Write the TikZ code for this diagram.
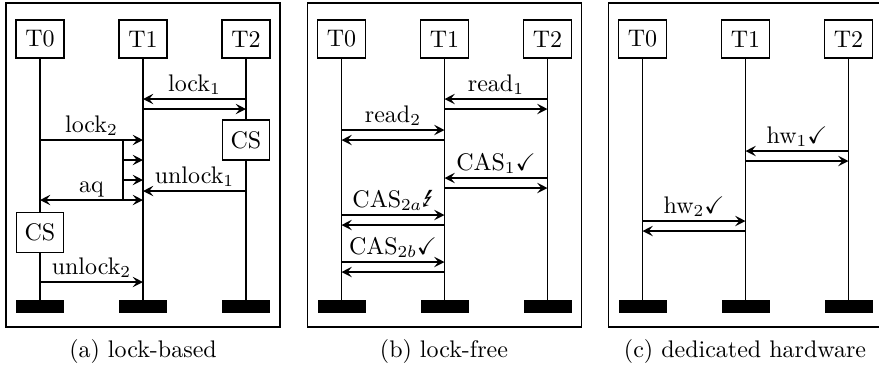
\documentclass[tikz,border=0pt]{standalone}
\usepackage{amssymb}
\usepackage{marvosym}
\usetikzlibrary{arrows.meta}
\begin{document}
\begin{tikzpicture}[x=0.41667pt,y=-0.41667pt,
  thread/.style={draw,line width=0.75pt,fill=white,minimum width=20pt,minimum height=15.8pt,inner sep=0pt},
  csbox/.style={thread,minimum width=19.6pt,minimum height=16.7pt},
  endbar/.style={fill=black,minimum width=20pt,minimum height=5.4pt,inner sep=0pt},
  life/.style={line width=0.75pt},
  msg/.style={line width=0.75pt,-{Stealth[length=4.3pt,width=4.3pt,inset=1.7pt]}},
  dmsg/.style={line width=0.75pt,{Stealth[length=4.3pt,width=4.3pt,inset=1.7pt]}-{Stealth[length=4.3pt,width=4.3pt,inset=1.7pt]}},
  frame/.style={line width=0.75pt},
  lbl/.style={midway,anchor=base,inner sep=0pt,yshift=3.3pt},
  captext/.style={anchor=base,inner sep=0pt}]
\useasboundingbox (0,0) rectangle (879,367);
\foreach \p/\o in {a/0,b/301.5,c/602.5}{
  \draw[frame] (6+\o,3) rectangle (280+\o,327);
  \node[thread] (\p T0) at (40+\o,39) {T0};
  \node[thread] (\p T1) at (143+\o,39) {T1};
  \node[thread] (\p T2) at (246+\o,39) {T2};
  \node[endbar] (\p E0) at (40+\o,306.5) {};
  \node[endbar] (\p E1) at (143+\o,306.5) {};
  \node[endbar] (\p E2) at (246+\o,306.5) {};
  \draw[life] (\p T0.south) -- (\p E0.north);
  \draw[life] (\p T1.south) -- (\p E1.north);
  \draw[life] (\p T2.south) -- (\p E2.north);
}
% (a) lock-based
\draw[msg] (aT2 |- 0,99) -- node[lbl] {lock$_1$} (aT1 |- 0,99);
\draw[msg] (aT1 |- 0,109) -- (aT2 |- 0,109);
\node[csbox] (aCS2) at (246,140) {CS};
\draw[msg] (aT0 |- 0,140) -- node[lbl] {lock$_2$} (aT1 |- 0,140);
\coordinate (aJ) at (123,140);
\draw[life] (aJ) -- (aJ |- 0,200);
\draw[msg] (aJ |- 0,160) -- (aT1 |- 0,160);
\draw[msg] (aJ |- 0,180) -- (aT1 |- 0,180);
\draw[msg] (aT2 |- 0,191) -- node[lbl] {unlock$_1$} (aT1 |- 0,191);
\draw[dmsg] (aT0 |- 0,200) -- node[lbl] {aq} (aT1 |- 0,200);
\node[csbox] (aCS0) at (40,232.5) {CS};
\draw[msg] (aT0 |- 0,282) -- node[lbl] {unlock$_2$} (aT1 |- 0,282);
% (b) lock-free
\draw[msg] (bT2 |- 0,99) -- node[lbl] {read$_1$} (bT1 |- 0,99);
\draw[msg] (bT1 |- 0,109) -- (bT2 |- 0,109);
\draw[msg] (bT0 |- 0,130) -- node[lbl] {read$_2$} (bT1 |- 0,130);
\draw[msg] (bT1 |- 0,140) -- (bT0 |- 0,140);
\draw[msg] (bT2 |- 0,178) -- node[lbl] {CAS$_1\checkmark$} (bT1 |- 0,178);
\draw[msg] (bT1 |- 0,188) -- (bT2 |- 0,188);
\draw[msg] (bT0 |- 0,215) -- node[lbl] {CAS$_{2a}$\Lightning} (bT1 |- 0,215);
\draw[msg] (bT1 |- 0,225) -- (bT0 |- 0,225);
\draw[msg] (bT0 |- 0,262) -- node[lbl] {CAS$_{2b}\checkmark$} (bT1 |- 0,262);
\draw[msg] (bT1 |- 0,272) -- (bT0 |- 0,272);
% (c) dedicated hardware
\draw[msg] (cT2 |- 0,151) -- node[lbl] {hw$_1\checkmark$} (cT1 |- 0,151);
\draw[msg] (cT1 |- 0,161) -- (cT2 |- 0,161);
\draw[msg] (cT0 |- 0,221) -- node[lbl] {hw$_2\checkmark$} (cT1 |- 0,221);
\draw[msg] (cT1 |- 0,231) -- (cT0 |- 0,231);
% captions
\node[captext] (capa) at (143,357) {(a) lock-based};
\node[captext] (capb) at (444,357) {(b) lock-free};
\node[captext] (capc) at (745,357) {(c) dedicated hardware};
\end{tikzpicture}
\end{document}
